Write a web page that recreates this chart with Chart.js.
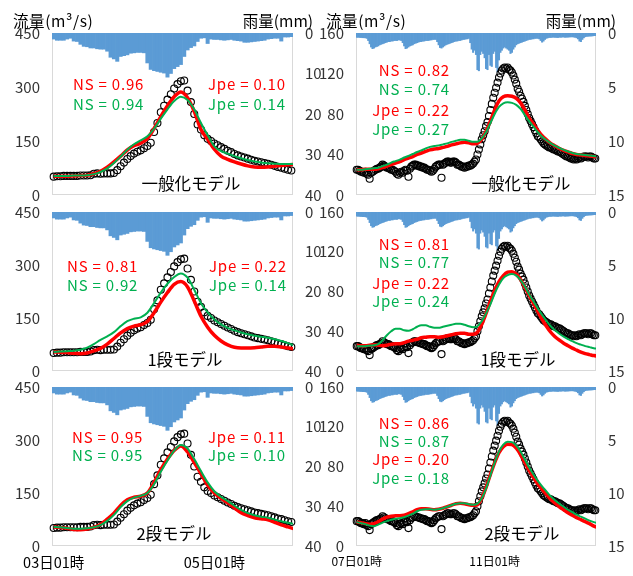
<!DOCTYPE html>
<html>
<head>
<meta charset="utf-8">
<script src="https://cdn.jsdelivr.net/npm/chart.js@4/dist/chart.umd.min.js"></script>
<style>
  body { margin: 0; width: 633px; height: 576px; background: #fff; position: relative; overflow: hidden;
         font-family: "Noto Sans CJK JP", "Noto Sans", sans-serif; }
  canvas { position: absolute; }
  .txt { position: absolute; white-space: nowrap; line-height: 1; }
</style>
</head>
<body>
<canvas id="L1" width="340" height="210" style="left:0;top:9px"></canvas>
<canvas id="L2" width="340" height="207" style="left:0;top:188px"></canvas>
<canvas id="L3" width="340" height="213" style="left:0;top:363px"></canvas>
<canvas id="R1" width="323" height="210" style="left:310px;top:9px"></canvas>
<canvas id="R2" width="323" height="207" style="left:310px;top:188px"></canvas>
<canvas id="R3" width="323" height="213" style="left:310px;top:363px"></canvas>
<script>
// ---- time axis (hourly steps from the first record) ----
const leftTickHours = [0, 48];
const leftTickLabels = ['03日01時', '05日01時'];
const rightTickHours = [0, 96];
const rightTickLabels = ['07日01時', '11日01時'];

// ---- event 1 (03日01時 – ): hourly rainfall (mm) and observed discharge (m3/s) ----
const leftRain = [
  1.5,1.8,1.8,1.8,1.5,1.3,2.0,2.1,2.8,3.3,
  3.4,3.7,3.7,3.9,4.0,4.0,4.5,6.0,6.4,7.0,
  5.8,5.6,5.4,5.0,4.9,4.8,4.8,4.9,7.4,9.0,
  9.3,9.5,9.7,9.9,10.9,10.0,8.8,8.3,7.8,5.8,
  4.2,3.6,3.2,2.1,1.3,1.2,2.6,1.5,1.6,1.6,
  1.7,1.8,1.7,1.6,1.8,1.9,2.0,2.3,2.3,2.2,
  2.1,2.0,1.9,1.8,1.5,1.4,1.3,1.3,2.0,1.0,
  1.0,0.9
];
const leftObs = [
  51,52,52,53,53,53,53,53,54,54,
  54,55,59,60,59,60,60,60,61,69,
  80,90,100,108,115,120,124,130,136,145,
  175,200,230,248,265,280,296,308,316,318,
  290,258,225,196,182,166,156,150,143,138,
  133,128,123,119,114,110,107,104,101,98,
  95,93,91,89,87,84,81,78,76,73,
  70,68
];
// simulated discharge, one value every 2 hours
const leftStep = 2;
const leftGeneralRed = [52,52,52,53,54,55,59,66,77,92,108,125,137,144,157,185,218,248,273,286,
  270,232,182,155,127,108,99,92,86,81,78,77,78,80,82,84,85];
const leftGeneralGreen = [53,53,53,54,54,55,58,64,74,89,107,126,141,152,163,184,212,238,261,273,
  264,238,200,166,135,122,115,108,102,97,93,90,88,87,86,86,86];
const leftOneRed = [54,53,52,50,49,51,57,64,76,92,108,120,127,131,140,165,195,222,245,253,
  238,198,155,124,101,85,74,67,65,65,66,68,70,70,68,65,62];
const leftOneGreen = [54,55,56,57,60,66,76,88,98,110,127,141,148,152,165,192,222,247,266,276,
  264,230,192,166,146,132,122,115,109,104,100,97,94,90,85,79,72];
const leftTwoRed = [54,52,50,47,46,48,53,61,76,93,115,131,138,141,150,180,216,246,270,283,
  266,236,205,172,150,135,122,108,94,86,80,77,74,67,60,54,48];
const leftTwoGreen = [54,53,51,49,49,50,53,59,71,88,110,127,137,142,150,175,210,242,270,286,
  276,246,212,180,155,139,127,114,102,93,87,83,80,75,70,66,62];

// ---- event 2 (07日01時 – ) ----
const rightRain = [
  0.40,0.40,0.42,0.42,0.44,0.44,0.45,0.50,
  0.70,1.00,1.30,1.45,1.40,1.30,1.25,1.20,1.10,1.05,1.00,0.95,0.90,0.85,0.80,0.80,0.75,0.75,0.70,0.70,0.70,0.65,
  0.65,0.70,0.90,1.20,1.45,1.40,1.30,1.20,1.15,1.10,1.00,0.95,0.90,0.85,0.80,0.80,0.75,0.75,0.70,0.70,
  0.70,0.65,0.65,0.60,0.60,0.60,0.80,1.10,1.35,1.40,1.30,1.20,1.10,1.05,1.00,0.95,0.90,0.85,0.80,0.75,
  0.75,0.70,0.70,0.65,0.60,0.60,0.55,0.55,0.50,
  0.90,1.50,1.80,1.60,2.00,3.40,3.50,2.00,1.70,1.90,2.30,3.30,3.40,2.00,3.00,3.10,1.90,1.70,3.20,3.60,
  2.50,1.80,1.60,1.40,1.30,1.40,1.50,1.60,1.90,1.80,1.50,1.30,1.10,1.00,0.95,0.90,0.85,0.80,0.75,0.70,
  0.65,0.60,0.60,0.55,0.55,0.50,0.50,0.50,0.55,0.70,0.85,0.75,0.60,0.50,0.45,
  0.42,0.42,0.40,0.40,0.40,0.42,0.42,0.40,0.40,0.38,0.38,0.40,0.40,0.38,0.38,0.36,0.36,0.38,0.40,
  0.45,0.55,0.75,0.80,0.60,0.45,
  0.35,0.32,0.30,0.30,0.28,0.28,0.25,0.25
];
const rightObs = [
  25,25,24,23,23,22,23,21,20,16,22,23,24,25,26,26,27,28,30,29,
  28,27,27,26,25,25,24,23,21,20,22,23,22,24,25,24,18,26,28,29,
  30,30,29,29,28,28,27,27,26,25,25,24,23,24,26,28,29,30,30,17,
  30,31,32,33,33,32,32,33,33,32,30,30,29,28,28,27,28,28,29,29,
  30,31,33,35,40,45,50,55,59,63,68,72,78,84,90,96,101,106,111,116,
  120,123,125,126,125,126,124,123,121,118,114,110,105,102,98,95,92,88,84,80,
  76,73,70,67,64,61,58,57,55,53,51,50,49,48,47,47,46,45,45,44,
  43,43,42,41,40,39,38,38,37,36,36,35,36,35,36,37,36,37,38,38,
  38,37,38,38,37,36,36
];
// simulated discharge, one value every 3 hours
const rightStep = 3;
const rightGeneralRed = [25,25,25.5,25.5,25.5,26,27,28.5,30,31.5, 33,35,36.5,38,40,41.5,43,44.5,45.5,46,
  47,48,49.5,50.5,51.5,52,51.5,50.5,51,55, 63,73,84,93,97,98,97.5,95.5,91,84,
  76,70,64,58.5,54.5,51,48.5,46,44,42.5, 41,40,39.5,39,38.5,38,37.5];
const rightGeneralGreen = [25,25,25.5,26,26.5,27,28.5,30,32,33.5, 35,37,38.5,40.5,42.5,44,46,47.5,48.5,49,
  50,51,52.5,53.5,54.5,54.5,53.5,52.5,52.5,56, 62,71,80,87,90.5,91.5,91,89,85,79,
  73,67.5,62,57.5,54,51,48.5,46.5,44.5,43, 41.5,40.5,40,39.5,39,38.5,38];
const rightOneRed = [26,25.5,25.5,26,26.5,26,25.5,26,27,27.5, 27.5,28.5,30,31,32,33.5,34,34.5,34.5,34,
  34.5,35.5,36.5,37.5,38,38,37,37,39,47, 58,70,81,90,96,99.5,100,97.5,92,84,
  76,68,60,52,45,39,34.5,31,28,25.5, 23,21,19,17.5,16.5,15.5,15];
const rightOneGreen = [25,25,25,25.5,26,27,31,36,40,42.5, 42.5,41,40.5,42,44.5,46,46,44.5,43.5,43.5,
  44.5,45.5,46.5,47.5,47.5,46.5,45,44,45,50, 58,67,78,87,93.5,96.5,97.5,96,91.5,85,
  77,70,63,56.5,50.5,45,41,37.5,34.5,32, 30,28,26.5,25,24,23,22.5];
const rightTwoRed = [24,23.5,22.5,22,22.5,24.5,27,29,30,30.5, 30.5,31,32.5,34.5,36.5,37.5,37.5,37,36.5,37,
  38,39.5,41,42.5,43,42.5,41.5,41,41.5,48, 59,72,84,94,100,102.5,102,98.5,92,84,
  76,69,62.5,57,52,47,43,39.5,36.5,33.5, 31,28.5,26.5,24.5,22.5,20,18.5];
const rightTwoGreen = [24,23,22,20.5,20,21.5,23.5,25,26.5,27.5, 28,29,30.5,32.5,35,36.5,37,37,36.5,37,
  38,39.5,41,42.5,43,43,42,41.5,42.5,48, 58,71,84,95,102,105,104.5,101,95,87,
  79,72,65.5,60,55,50,46,42.5,39.5,36.5, 34,31.5,29.5,27.5,25.5,24,23];

// ---- goodness-of-fit scores [red, green] per model row ----
const modelNames = ['一般化モデル', '1段モデル', '2段モデル'];
const leftNS  = [[0.96, 0.94], [0.81, 0.92], [0.95, 0.95]];
const leftJpe = [[0.10, 0.14], [0.22, 0.14], [0.11, 0.10]];
const rightNS  = [[0.82, 0.74], [0.81, 0.77], [0.86, 0.87]];
const rightJpe = [[0.22, 0.27], [0.22, 0.24], [0.20, 0.18]];

const RED = '#FF0000', GREEN = '#00B050', RAIN = '#5B9BD5', TICK = '#333333';
const FONT = '"Noto Sans CJK JP", "Noto Sans", sans-serif';

const hourly = arr => arr.map((v, i) => ({ x: i, y: v }));
const stepped = (arr, step) => arr.map((v, k) => ({ x: k * step, y: v }));

const plotFrame = {
  id: 'plotFrame',
  beforeDatasetsDraw(chart) {
    const { ctx, chartArea: a } = chart;
    ctx.save();
    ctx.strokeStyle = '#D9D9D9';
    ctx.lineWidth = 1;
    ctx.strokeRect(Math.round(a.left) + 0.5, Math.round(a.top) + 0.5, Math.round(a.width) - 1, Math.round(a.height) - 1);
    ctx.restore();
  }
};

function panel(id, o) {
  const n = o.rain.length;
  return new Chart(document.getElementById(id), {
    type: 'bar',
    plugins: [plotFrame],
    data: {
      datasets: [
        { type: 'line', data: stepped(o.green, o.step), borderColor: GREEN, borderWidth: 2,
          pointRadius: 0, cubicInterpolationMode: 'monotone', yAxisID: 'y', order: 1 },
        { type: 'line', data: stepped(o.red, o.step), borderColor: RED, borderWidth: 3.5,
          pointRadius: 0, cubicInterpolationMode: 'monotone', yAxisID: 'y', order: 2 },
        { type: 'line', data: hourly(o.obs), showLine: false, pointRadius: 3.5, pointBorderWidth: 1.1,
          pointBorderColor: '#000', pointBackgroundColor: 'rgba(255,255,255,0)', yAxisID: 'y', order: 3, clip: false },
        { type: 'bar', data: hourly(o.rain), backgroundColor: RAIN, borderWidth: 0,
          barPercentage: 1, categoryPercentage: 1, yAxisID: 'yR', order: 4, clip: 0 }
      ]
    },
    options: {
      responsive: false, animation: false, events: [],
      layout: { padding: { top: 24, bottom: o.showX ? 0 : 24, left: 0, right: 0 } },
      plugins: { legend: { display: false }, tooltip: { enabled: false } },
      scales: {
        x: {
          type: 'linear', min: -0.5, max: n - 0.5, offset: false, display: o.showX,
          grid: { display: false, drawTicks: false }, border: { display: false },
          afterBuildTicks: s => { s.ticks = o.tickHours.map(v => ({ value: v })); },
          afterFit: s => { if (o.showX) s.height = 30; },
          ticks: { autoSkip: false, maxRotation: 0, padding: 8, color: '#000',
                   font: { family: FONT, size: o.xFont },
                   callback: v => o.tickLabels[o.tickHours.indexOf(v)] }
        },
        y: {
          position: 'left', min: 0, max: o.flowMax,
          grid: { display: false, drawTicks: false }, border: { display: false },
          afterFit: s => { s.width = o.leftW; },
          ticks: { stepSize: o.flowStep, padding: 12, color: TICK, font: { family: FONT, size: 15 } }
        },
        yR: {
          position: 'right', reverse: true, min: 0, max: o.rainMax,
          grid: { display: false, drawTicks: false }, border: { display: false },
          afterFit: s => { s.width = o.rightW; },
          ticks: { stepSize: o.rainStep, padding: 12, color: TICK, font: { family: FONT, size: 15 } }
        }
      }
    }
  });
}

const leftBase = { rain: leftRain, obs: leftObs, step: leftStep, flowMax: 450, flowStep: 150,
  rainMax: 40, rainStep: 10, leftW: 52, rightW: 47, tickHours: leftTickHours, tickLabels: leftTickLabels, xFont: 14.5 };
const rightBase = { rain: rightRain, obs: rightObs, step: rightStep, flowMax: 160, flowStep: 40,
  rainMax: 15, rainStep: 5, leftW: 46, rightW: 37, tickHours: rightTickHours, tickLabels: rightTickLabels, xFont: 12 };

panel('L1', { ...leftBase, red: leftGeneralRed, green: leftGeneralGreen, showX: false });
panel('L2', { ...leftBase, red: leftOneRed, green: leftOneGreen, showX: false });
panel('L3', { ...leftBase, red: leftTwoRed, green: leftTwoGreen, showX: true });
panel('R1', { ...rightBase, red: rightGeneralRed, green: rightGeneralGreen, showX: false });
panel('R2', { ...rightBase, red: rightOneRed, green: rightOneGreen, showX: false });
panel('R3', { ...rightBase, red: rightTwoRed, green: rightTwoGreen, showX: true });

// ---- text overlays ----
function put(text, x, y, opts) {
  const d = document.createElement('div');
  d.className = 'txt';
  d.textContent = text;
  const size = opts.size || 15;
  d.style.fontSize = size + 'px';
  d.style.color = opts.color || '#000';
  d.style.top = (y - size / 2) + 'px';
  if (opts.spacing) d.style.letterSpacing = opts.spacing + 'px';
  if (opts.align === 'right') { d.style.right = (633 - x) + 'px'; }
  else if (opts.align === 'center') { d.style.left = x + 'px'; d.style.transform = 'translateX(-50%)'; }
  else { d.style.left = x + 'px'; }
  document.body.appendChild(d);
}
const fmt = v => v.toFixed(2);

// axis headers
put('流量(m³/s)', 13, 21, { size: 15.5, spacing: 0.6 });
put('雨量(mm)', 313, 21, { size: 15.5 , align: 'right' });
put('流量(m³/s)', 326, 21, { size: 15.5, spacing: 0.6 });
put('雨量(mm)', 616, 21, { size: 15.5, align: 'right' });

const leftRows = [
  { ns: [83, 103], nsx: 73, jx: 208, name: [191, 183] },
  { ns: [265, 284], nsx: 67, jx: 209, name: [185, 359] },
  { ns: [436, 454], nsx: 72, jx: 208, name: [174, 533] }
];
const rightRows = [
  { ns: [69, 88], jpe: [109, 128], name: [521, 183] },
  { ns: [243, 261], jpe: [282, 300], name: [518, 359] },
  { ns: [422, 440], jpe: [458, 477], name: [522, 533] }
];
const cols = [RED, GREEN];
leftRows.forEach((r, k) => {
  for (let s = 0; s < 2; s++) {
    put('NS = ' + fmt(leftNS[k][s]), r.nsx, r.ns[s], { color: cols[s], spacing: 0.8 });
    put('Jpe = ' + fmt(leftJpe[k][s]), r.jx, r.ns[s], { color: cols[s], spacing: 0.8 });
  }
  put(modelNames[k], r.name[0], r.name[1], { size: 16.5, align: 'center' });
});
rightRows.forEach((r, k) => {
  for (let s = 0; s < 2; s++) {
    put('NS = ' + fmt(rightNS[k][s]), 450, r.ns[s], { color: cols[s], align: 'right', spacing: 0.8 });
    put('Jpe = ' + fmt(rightJpe[k][s]), 450, r.jpe[s], { color: cols[s], align: 'right', spacing: 0.8 });
  }
  put(modelNames[k], r.name[0], r.name[1], { size: 16.5, align: 'center' });
});
</script>
</body>
</html>
